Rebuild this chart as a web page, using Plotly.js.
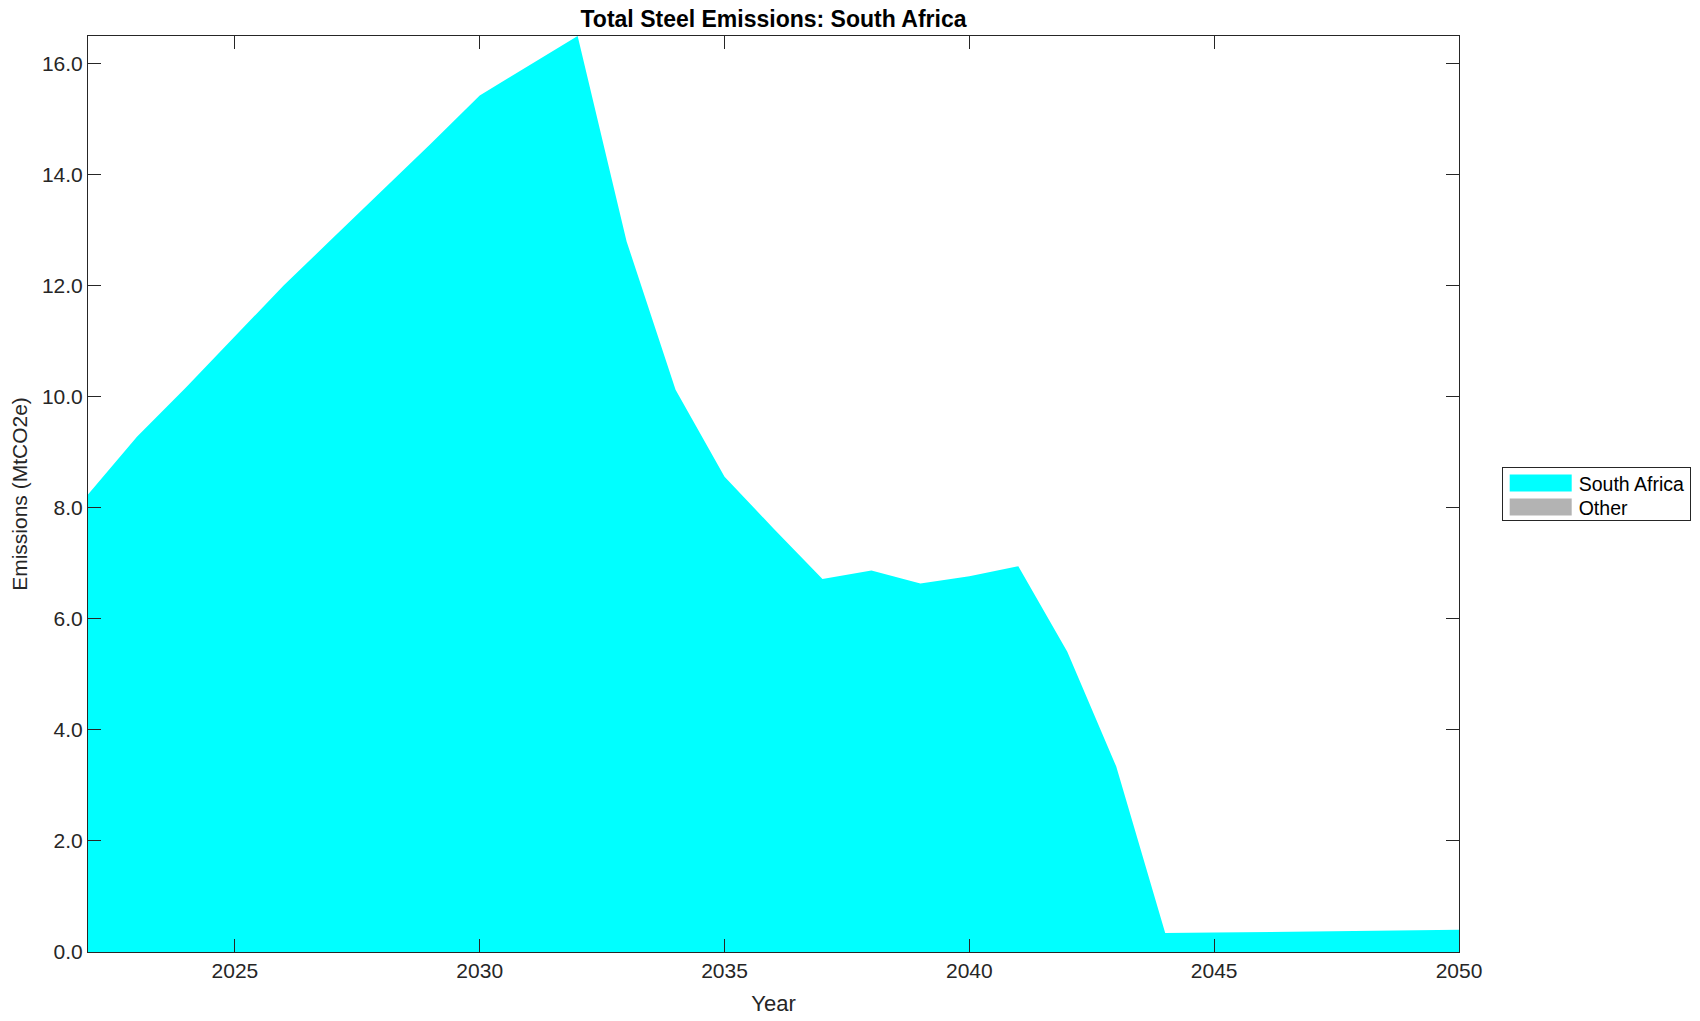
<!DOCTYPE html>
<html>
<head>
<meta charset="utf-8">
<script src="https://cdn.plot.ly/plotly-3.0.1.min.js"></script>
<style>
  html, body { margin: 0; padding: 0; background: #ffffff; }
  #chart { width: 1700px; height: 1021px; }
</style>
</head>
<body>
<div id="chart"></div>
<script>
const years = [2022, 2023, 2024, 2025, 2026, 2027, 2028, 2029, 2030, 2031,
               2032, 2033, 2034, 2035, 2036, 2037, 2038, 2039, 2040, 2041,
               2042, 2043, 2044, 2045, 2046, 2047, 2048, 2049, 2050];
const southAfrica = [8.24, 9.28, 10.17, 11.09, 12.01, 12.86, 13.71, 14.56, 15.43, 15.97,
                     16.50, 12.80, 10.13, 8.56, 7.63, 6.72, 6.87, 6.64, 6.77, 6.95,
                     5.41, 3.34, 0.34, 0.35, 0.36, 0.37, 0.38, 0.39, 0.40];
const other = [0, 0, 0, 0, 0, 0, 0, 0, 0, 0,
               0, 0, 0, 0, 0, 0, 0, 0, 0, 0,
               0, 0, 0, 0, 0, 0, 0, 0, 0];
const seriesNames = ["South Africa", "Other"];
const xTickVals = [2025, 2030, 2035, 2040, 2045, 2050];
const yTickVals = [0, 2, 4, 6, 8, 10, 12, 14, 16];

const FONT = '"Liberation Sans", Arial, Helvetica, sans-serif';
const AXC = '#262626';

const traces = [
  {
    x: years, y: southAfrica, name: seriesNames[0],
    type: 'scatter', mode: 'lines', stackgroup: 'one',
    line: {width: 0, color: '#00ffff'}, fillcolor: '#00ffff',
    hoverinfo: 'x+y+name'
  },
  {
    x: years, y: other, name: seriesNames[1],
    type: 'scatter', mode: 'lines', stackgroup: 'one',
    line: {width: 0, color: '#b3b3b3'}, fillcolor: '#b3b3b3',
    hoverinfo: 'x+y+name'
  }
];

const layout = {
  width: 1700, height: 1021,
  paper_bgcolor: '#ffffff', plot_bgcolor: '#ffffff',
  margin: {l: 88, r: 241, t: 36, b: 69, pad: 0, autoexpand: false},
  font: {family: FONT, size: 21, color: AXC},
  title: {
    text: '<b>Total Steel Emissions: South Africa</b>',
    font: {family: FONT, size: 23, color: '#000000'},
    x: 0.5, xref: 'paper', xanchor: 'center',
    y: 1 - 19 / 1021, yref: 'container', yanchor: 'middle'
  },
  xaxis: {
    range: [2022, 2050], tickvals: xTickVals, ticktext: xTickVals.map(String),
    ticks: 'inside', ticklen: 13, tickwidth: 1, tickcolor: AXC,
    showline: true, linecolor: AXC, linewidth: 1, mirror: 'ticks',
    showgrid: false, zeroline: false,
    tickfont: {family: FONT, size: 21, color: AXC},
    title: {text: 'Year', font: {family: FONT, size: 22, color: AXC}, standoff: 14},
    automargin: false
  },
  yaxis: {
    range: [0, 16.5], tickvals: yTickVals, tickformat: '.1f',
    ticks: 'inside', ticklen: 13, tickwidth: 1, tickcolor: AXC,
    showline: true, linecolor: AXC, linewidth: 1, mirror: 'ticks',
    showgrid: false, zeroline: false,
    tickfont: {family: FONT, size: 21, color: AXC},
    title: {text: 'Emissions (MtCO2e)', font: {family: FONT, size: 21, color: AXC}, standoff: 8},
    automargin: false
  },
  showlegend: true,
  legend: {
    x: (1501.7 - 88) / 1371, xanchor: 'left',
    y: (952 - 467) / 916, yanchor: 'top',
    bgcolor: '#ffffff', bordercolor: AXC, borderwidth: 1,
    font: {family: FONT, size: 19.5, color: '#000000'},
    itemwidth: 66, tracegroupgap: 0, traceorder: 'normal'
  }
};

Plotly.newPlot('chart', traces, layout, {displayModeBar: false, staticPlot: true}).then(function (gd) {
  try {
    gd.querySelectorAll('.legend .legendfill path').forEach(function (p) {
      p.setAttribute('d', 'M7,-8.5h62v17h-62z');
    });
    var items = gd.querySelectorAll('.legend .traces');
    var rowY = [16, 40];
    items.forEach(function (g, i) {
      var tr = g.getAttribute('transform') || '';
      var m = tr.match(/translate\(\s*([-\d.]+)[ ,]+([-\d.]+)\s*\)/);
      if (m && i < rowY.length) {
        g.setAttribute('transform', 'translate(' + m[1] + ',' + rowY[i] + ')');
      }
    });
    var bg = gd.querySelector('.legend .bg');
    if (bg) { bg.setAttribute('height', 53); }
  } catch (e) {}
});
</script>
</body>
</html>
